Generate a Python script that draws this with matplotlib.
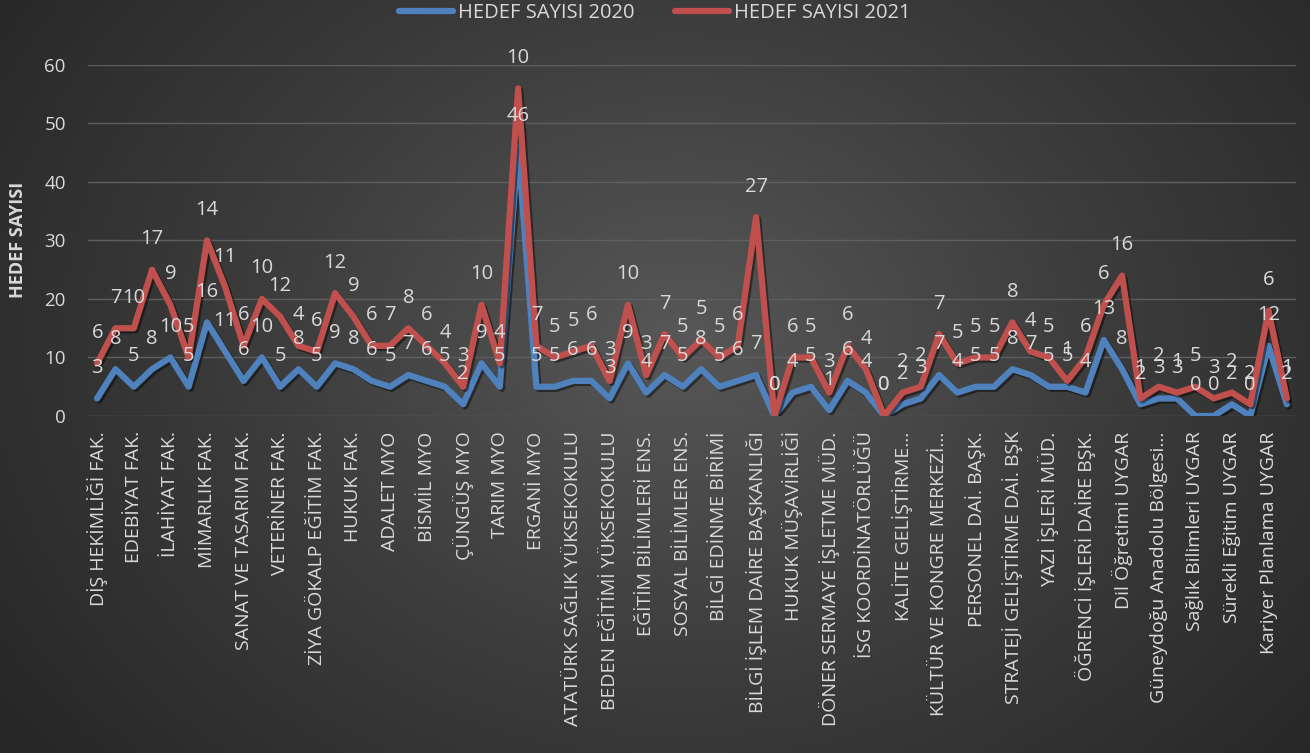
import numpy as np
import matplotlib.pyplot as plt
import matplotlib.patheffects as pe
from matplotlib.colors import LinearSegmentedColormap
from matplotlib.lines import Line2D

# Every other category name is shown on the axis (as in the original chart)
labels = [
    "DİŞ HEKİMLİĞİ FAK.", "EDEBİYAT FAK.", "İLAHİYAT FAK.", "MİMARLIK FAK.",
    "SANAT VE TASARIM FAK.", "VETERİNER FAK.", "ZİYA GÖKALP EĞİTİM FAK.",
    "HUKUK FAK.", "ADALET MYO", "BİSMİL MYO", "ÇÜNGÜŞ MYO", "TARIM MYO",
    "ERGANİ MYO", "ATATÜRK SAĞLIK YÜKSEKOKULU", "BEDEN EĞİTİMİ YÜKSEKOKULU",
    "EĞİTİM BİLİMLERİ ENS.", "SOSYAL BİLİMLER ENS.", "BİLGİ EDİNME BİRİMİ",
    "BİLGİ İŞLEM DAİRE BAŞKANLIĞI", "HUKUK MÜŞAVİRLİĞİ",
    "DÖNER SERMAYE İŞLETME MÜD.", "İSG KOORDİNATÖRLÜĞÜ", "KALİTE GELİŞTİRME…",
    "KÜLTÜR VE KONGRE MERKEZİ…", "PERSONEL DAİ. BAŞK.",
    "STRATEJİ GELİŞTİRME DAİ. BŞK", "YAZI İŞLERİ MÜD.",
    "ÖĞRENCİ İŞLERİ DAİRE BŞK.", "Dil Öğretimi UYGAR",
    "Güneydoğu Anadolu Bölgesi…", "Sağlık Bilimleri UYGAR",
    "Sürekli Eğitim UYGAR", "Kariyer Planlama UYGAR",
]

hedef_2020 = [3, 8, 5, 8, 10, 5, 16, 11, 6, 10,
              5, 8, 5, 9, 8, 6, 5, 7, 6, 5,
              2, 9, 5, 46, 5, 5, 6, 6, 3, 9,
              4, 7, 5, 8, 5, 6, 7, 0, 4, 5,
              1, 6, 4, 0, 2, 3, 7, 4, 5, 5,
              8, 7, 5, 5, 4, 13, 8, 2, 3, 3,
              0, 0, 2, 0, 12, 2]
hedef_2021 = [6, 7, 10, 17, 9, 5, 14, 11, 6, 10,
              12, 4, 6, 12, 9, 6, 7, 8, 6, 4,
              3, 10, 4, 10, 7, 5, 5, 6, 3, 10,
              3, 7, 5, 5, 5, 6, 27, 0, 6, 5,
              3, 6, 4, 0, 2, 2, 7, 5, 5, 5,
              8, 4, 5, 1, 6, 6, 16, 1, 2, 1,
              5, 3, 2, 2, 6, 1]

plt.rcParams['font.family'] = ['Open Sans', 'DejaVu Sans']
txt = '#d9d9d9'

x = np.arange(len(hedef_2020))
blue = np.array(hedef_2020)
red = blue + np.array(hedef_2021)  # stacked line

fig = plt.figure(figsize=(13.1, 7.53), dpi=100)

# dark radial background
bg = fig.add_axes([0, 0, 1, 1], zorder=-10)
yy, xx = np.mgrid[0:1:300j, 0:1:500j]
d = np.sqrt(((xx - 0.52) / 0.65) ** 2 + ((yy - 0.45) / 0.9) ** 2)
cmap = LinearSegmentedColormap.from_list('bg', ['#575757', '#3c3c3c', '#262626'])
bg.imshow(np.clip(d, 0, 1), cmap=cmap, vmin=0, vmax=1, aspect='auto')
bg.axis('off')

ax = fig.add_axes([88 / 1310, 1 - 416 / 753, (1296 - 88) / 1310, (416 - 65) / 753])
ax.set_facecolor('none')

shadow = [pe.SimpleLineShadow(offset=(1.5, -1.5), alpha=0.45, shadow_color='black'), pe.Normal()]
ax.plot(x, blue, color='#4F81BD', lw=4.5, solid_joinstyle='round',
        solid_capstyle='round', path_effects=shadow, zorder=3)
ax.plot(x, red, color='#C0504D', lw=4.5, solid_joinstyle='round',
        solid_capstyle='round', path_effects=shadow, zorder=3)

for i in x:
    ax.annotate(str(hedef_2020[i]), (i, blue[i]), xytext=(0, 22), textcoords='offset points',
                ha='center', va='center', color=txt, fontsize=14.5, zorder=5, annotation_clip=False)
    ax.annotate(str(hedef_2021[i]), (i, red[i]), xytext=(0, 22), textcoords='offset points',
                ha='center', va='center', color=txt, fontsize=14.5, zorder=5, annotation_clip=False)

ax.set_xlim(-0.5, len(x) - 0.5)
ax.set_ylim(0, 60)
ax.set_yticks(range(0, 61, 10))
ax.yaxis.grid(True, color='#5f5f5f', lw=1)
ax.set_axisbelow(True)
for s in ax.spines.values():
    s.set_visible(False)

ax.set_xticks(x[::2])
ax.set_xticklabels(labels, rotation=90, fontsize=14)
ax.tick_params(axis='x', length=0, colors=txt, pad=11)
ax.tick_params(axis='y', length=0, colors=txt, labelsize=13.5, pad=16)

fig.text(18 / 1310, 1 - 240 / 753, 'HEDEF SAYISI', rotation=90, fontweight='bold',
         ha='center', va='center', fontsize=13, color=txt)

handles = [Line2D([], [], color='#4F81BD', lw=4.5, solid_capstyle='round'),
           Line2D([], [], color='#C0504D', lw=4.5, solid_capstyle='round')]
fig.legend(handles, ['HEDEF SAYISI 2020', 'HEDEF SAYISI 2021'], loc='center',
           bbox_to_anchor=(0.5, 1 - 13 / 753), ncol=2, frameon=False, fontsize=14.5,
           labelcolor=txt, handlelength=2.7, handletextpad=0.25, columnspacing=2.0)

fig.savefig('out.png', dpi=100)
